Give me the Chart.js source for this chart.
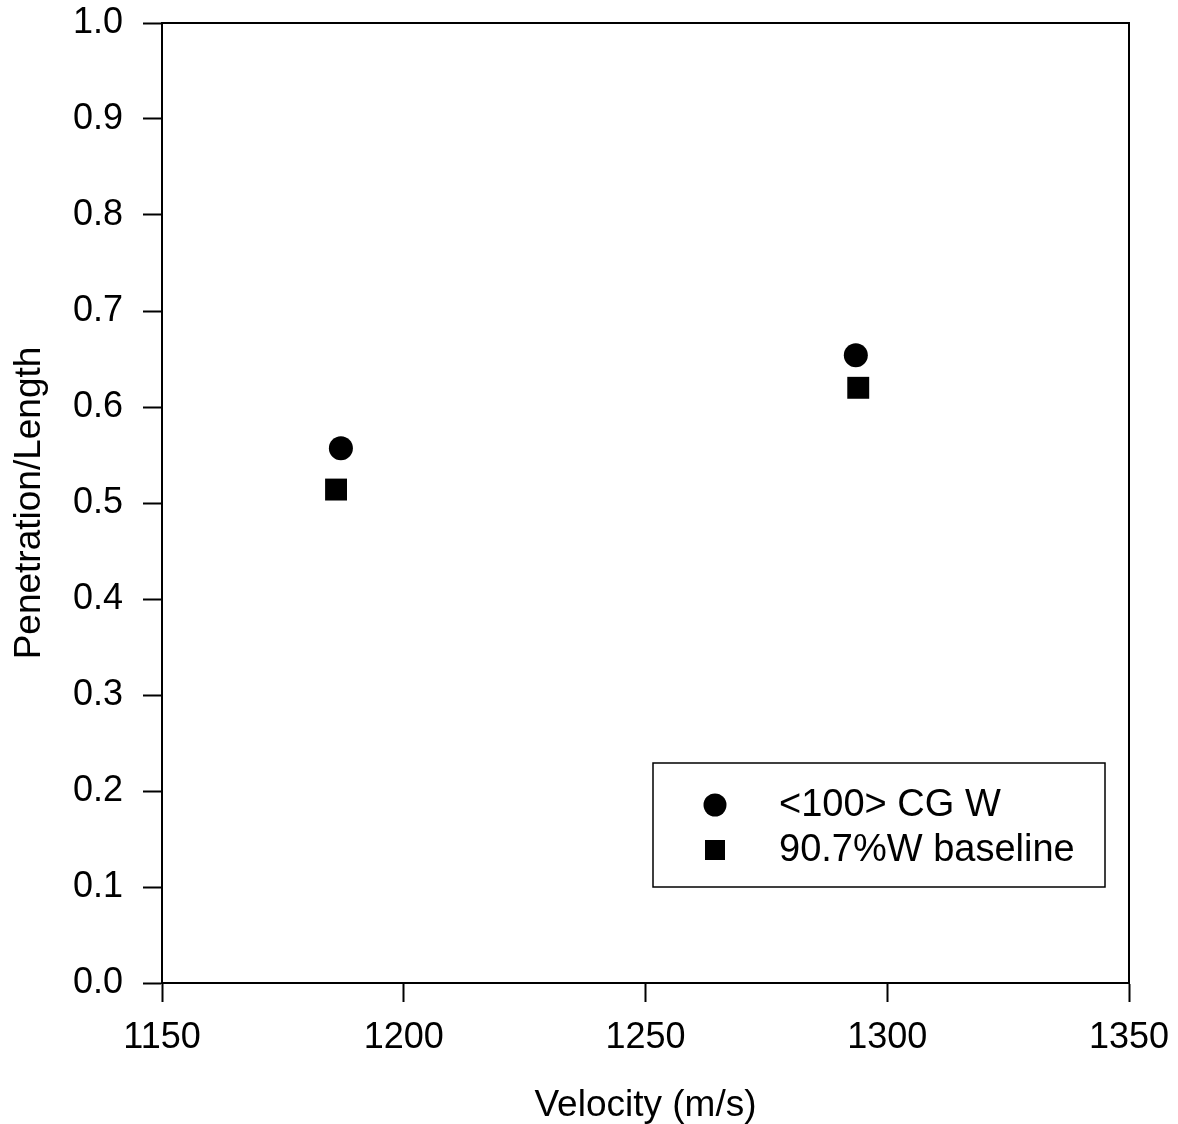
<!DOCTYPE html>
<html>
<head>
<meta charset="utf-8">
<script src="https://cdn.jsdelivr.net/npm/chart.js@4/dist/chart.umd.min.js"></script>
<style>
  html, body { margin: 0; padding: 0; background: #fff; }
  #wrap { width: 1178px; height: 1124px; }
</style>
</head>
<body>
<div id="wrap"><canvas id="chart"></canvas></div>
<script>
// values
const seriesNames = ['<100> CG W', '90.7%W baseline'];
const cgVelocity = [1187, 1293.5];
const cgPenLen = [0.557, 0.654];
const baseVelocity = [1186, 1294];
const basePenLen = [0.514, 0.62];
const xTicks = [1150, 1200, 1250, 1300, 1350];
const yTicks = [0, 0.1, 0.2, 0.3, 0.4, 0.5, 0.6, 0.7, 0.8, 0.9, 1.0];

const FONT = "'Liberation Sans', Arial, sans-serif";

const toPoints = (xs, ys) => xs.map((x, i) => ({ x: x, y: ys[i] }));

// frame round the plot + boxed legend inside it
const framePlugin = {
    id: 'frame',
    afterDraw(chart) {
        const ctx = chart.ctx;
        const a = chart.chartArea;
        ctx.save();
        ctx.strokeStyle = '#000';
        ctx.lineWidth = 2;
        ctx.strokeRect(a.left, a.top, a.right - a.left, a.bottom - a.top);

        // legend box
        const bw = 452, bh = 124;
        const bx = a.right - 24 - bw;
        const by = a.bottom - 96 - bh;
        ctx.lineWidth = 1.5;
        ctx.strokeRect(bx, by, bw, bh);

        ctx.font = '38px ' + FONT;
        ctx.fillStyle = '#000';
        ctx.textBaseline = 'middle';
        chart.data.datasets.forEach((ds, i) => {
            const cy = by + 42 + i * 45;
            const cx = bx + 62;
            ctx.beginPath();
            if (ds.pointStyle === 'circle') {
                ctx.arc(cx, cy, 11.5, 0, Math.PI * 2);
            } else {
                ctx.rect(cx - 10, cy - 10, 20, 20);
            }
            ctx.fill();
            ctx.fillText(ds.label, bx + 126, cy + 1);
        });
        ctx.restore();
    }
};

new Chart(document.getElementById('chart'), {
    type: 'scatter',
    data: {
        datasets: [{
            label: seriesNames[0],
            data: toPoints(cgVelocity, cgPenLen),
            pointStyle: 'circle',
            pointRadius: 12,
            pointHoverRadius: 12,
            backgroundColor: '#000',
            borderColor: '#000',
            borderWidth: 0
        }, {
            label: seriesNames[1],
            data: toPoints(baseVelocity, basePenLen),
            pointStyle: 'rect',
            pointRadius: 15.5,
            pointHoverRadius: 15.5,
            backgroundColor: '#000',
            borderColor: '#000',
            borderWidth: 0
        }]
    },
    options: {
        responsive: true,
        maintainAspectRatio: false,
        animation: false,
        layout: {
            padding: { top: 23, right: 49, left: 0, bottom: 0 }
        },
        plugins: {
            legend: { display: false },
            tooltip: { enabled: false }
        },
        scales: {
            x: {
                type: 'linear',
                min: 1150,
                max: 1350,
                afterBuildTicks: (scale) => {
                    scale.ticks = xTicks.map(v => ({ value: v }));
                },
                afterFit: (scale) => {
                    scale.height = 1124 - 983;
                    scale.paddingLeft = 0;
                    scale.paddingRight = 0;
                },
                border: { display: true, color: '#000', width: 2 },
                grid: {
                    drawOnChartArea: false,
                    drawTicks: true,
                    tickLength: 19,
                    tickWidth: 2,
                    tickColor: '#000'
                },
                ticks: {
                    color: '#000',
                    font: { family: FONT, size: 36 },
                    padding: 14,
                    maxRotation: 0,
                    callback: (v) => String(v)
                },
                title: {
                    display: true,
                    text: 'Velocity (m/s)',
                    color: '#000',
                    font: { family: FONT, size: 37, lineHeight: 1.0 },
                    padding: { top: 14, bottom: 0 }
                }
            },
            y: {
                type: 'linear',
                min: 0,
                max: 1,
                afterBuildTicks: (scale) => {
                    scale.ticks = yTicks.map(v => ({ value: v }));
                },
                afterFit: (scale) => {
                    scale.width = 162;
                    scale.paddingTop = 0;
                    scale.paddingBottom = 0;
                },
                border: { display: true, color: '#000', width: 2 },
                grid: {
                    drawOnChartArea: false,
                    drawTicks: true,
                    tickLength: 19,
                    tickWidth: 2,
                    tickColor: '#000'
                },
                ticks: {
                    color: '#000',
                    font: { family: FONT, size: 36 },
                    padding: 20,
                    callback: (v) => Number(v).toFixed(1)
                },
                title: {
                    display: true,
                    text: 'Penetration/Length',
                    color: '#000',
                    font: { family: FONT, size: 37 },
                    padding: { top: 8, bottom: 8 }
                }
            }
        }
    },
    plugins: [framePlugin]
});
</script>
</body>
</html>
